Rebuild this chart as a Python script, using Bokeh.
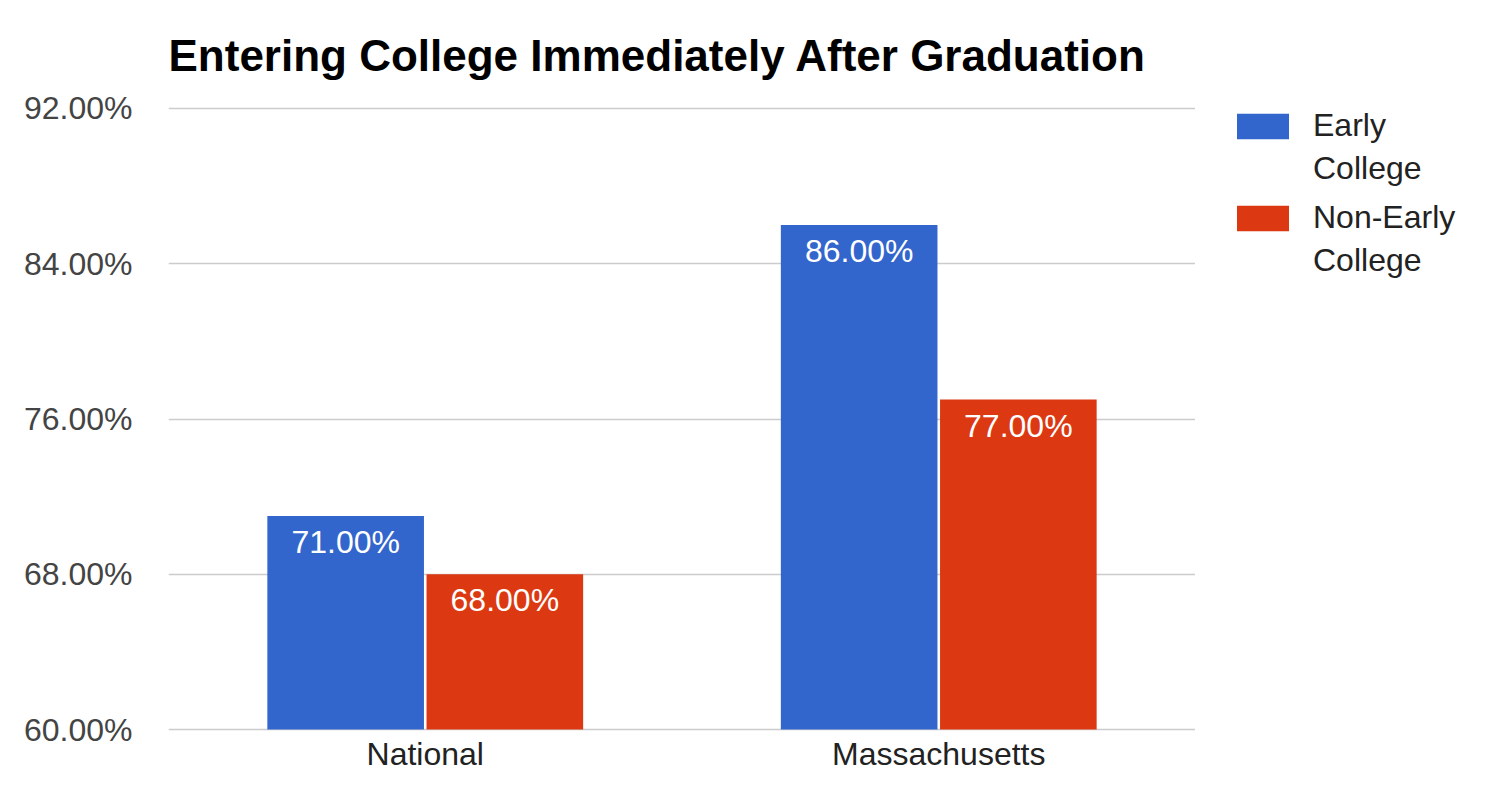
from bokeh.plotting import figure
from bokeh.layouts import row
from bokeh.models import (ColumnDataSource, FactorRange, Range1d, FixedTicker,
                          PrintfTickFormatter, Legend, LegendItem)
from bokeh.transform import dodge
from bokeh.embed import file_html
from bokeh.resources import INLINE
from bokeh.core.properties import value

# ---- data ----
categories = ["National", "Massachusetts"]
early_college = [71.0, 86.0]
non_early_college = [68.0, 77.0]
series_a_lines = ["Early", "College"]
series_b_lines = ["Non-Early", "College"]
y_ticks = [60, 68, 76, 84, 92]
title_text = "Entering College Immediately After Graduation"

FONT = "Liberation Sans"
BLUE = "#3366cc"
RED = "#dc3912"

H = 774
MAIN_W, LEG_W = 1195, 280
BL, BT = 168, 106

src = ColumnDataSource(dict(
    cat=categories,
    early=early_college,
    non=non_early_college,
    early_lbl=[f"{v:.2f}%" for v in early_college],
    non_lbl=[f"{v:.2f}%" for v in non_early_college],
))

p = figure(x_range=FactorRange(factors=categories, range_padding=0),
           y_range=Range1d(y_ticks[0] - 0.1, y_ticks[-1] + 0.1),
           width=MAIN_W, height=H, output_backend="svg", toolbar_location=None,
           min_border_left=BL, min_border_right=0, min_border_top=BT,
           min_border_bottom=36, title=title_text)

p.title.text_font = FONT
p.title.text_font_size = "44px"
p.title.text_font_style = "bold"
p.title.text_color = "#000000"
p.title.align = "left"
p.title.standoff = 53

p.vbar(x=dodge("cat", -0.155, range=p.x_range), top="early", bottom=y_ticks[0],
       width=0.305, source=src, fill_color=BLUE, line_color=None)
p.vbar(x=dodge("cat", 0.155, range=p.x_range), top="non", bottom=y_ticks[0],
       width=0.305, source=src, fill_color=RED, line_color=None)

for key, lbl, off in (("early", "early_lbl", -0.155), ("non", "non_lbl", 0.155)):
    p.text(x=dodge("cat", off, range=p.x_range), y=key, text=lbl, source=src,
           text_align="center", text_baseline="top", y_offset=8,
           text_font=value(FONT), text_font_size="32px", text_color="#ffffff")

p.yaxis.ticker = FixedTicker(ticks=y_ticks)
p.yaxis.formatter = PrintfTickFormatter(format="%.2f%%")
for ax in (p.xaxis, p.yaxis):
    ax.axis_line_color = None
    ax.major_tick_line_color = None
    ax.minor_tick_line_color = None
    ax.major_tick_out = 0
    ax.major_tick_in = 0
    ax.major_label_text_font = FONT
    ax.major_label_text_font_size = "32px"
p.yaxis.major_label_standoff = 36
p.yaxis.major_label_text_color = "#444444"
p.xaxis.major_label_standoff = 4
p.xaxis.major_label_text_color = "#222222"

p.xgrid.grid_line_color = None
p.ygrid.grid_line_color = "#cccccc"
p.ygrid.grid_line_width = 1.5
p.outline_line_color = None

# ---- legend panel (its own small figure to the right of the chart) ----
lf = figure(width=LEG_W, height=H, output_backend="svg", toolbar_location=None,
            x_range=Range1d(0, 1), y_range=Range1d(0, 1),
            x_axis_location=None, y_axis_location=None,
            min_border=0, outline_line_color=None)
lf.xgrid.grid_line_color = None
lf.ygrid.grid_line_color = None
# zero-size proxies that only supply the legend swatches
la = lf.vbar(x=[0], top=[0], bottom=[0], width=0, fill_color=BLUE, line_color=None)
lb = lf.vbar(x=[0], top=[0], bottom=[0], width=0, fill_color=RED, line_color=None)
blank = lf.vbar(x=[0], top=[0], bottom=[0], width=0, fill_alpha=0, line_alpha=0)

FRAME_BOTTOM = 729   # the legend figure's frame is aligned with the chart's frame
LEG_H = 36 + 6 + 36


def make_legend(lines, rend, top):
    leg = Legend(items=[LegendItem(label=lines[0], renderers=[rend]),
                        LegendItem(label=lines[1], renderers=[blank])],
                 margin=0, padding=0, border_line_color=None,
                 background_fill_alpha=0,
                 glyph_width=65, glyph_height=32, label_height=36,
                 label_standoff=18, spacing=6,
                 label_text_font=FONT, label_text_font_size="32px",
                 label_text_color="#222222")
    leg.location = (35, FRAME_BOTTOM - top - LEG_H)
    lf.add_layout(leg)


make_legend(series_a_lines, la, 107)
make_legend(series_b_lines, lb, 199)

layout = row(p, lf, spacing=0)
open("out.html", "w").write(file_html(layout, INLINE))
